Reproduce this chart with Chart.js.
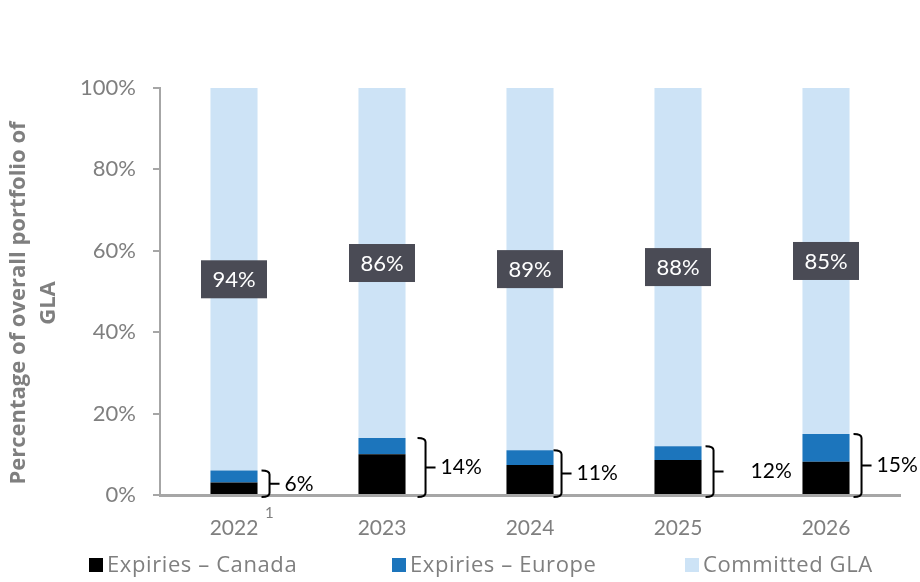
<!DOCTYPE html>
<html>
<head>
<meta charset="utf-8">
<title>Lease expiries</title>
<script src="https://cdn.jsdelivr.net/npm/chart.js@4.4.0/dist/chart.umd.min.js"></script>
<style>
  html, body { margin: 0; padding: 0; background: #fff; }
  #wrap { width: 920px; height: 582px; }
</style>
</head>
<body>
<div id="wrap"><canvas id="expiryChart" width="920" height="582"></canvas></div>
<script>
// shares of total GLA, in percent
const years = ['2022', '2023', '2024', '2025', '2026'];
const expiriesCanada = [3.1, 10.0, 7.4, 8.6, 8.2];
const expiriesEurope = [2.9, 4.0, 3.6, 3.4, 6.8];
const committedGLA = [94, 86, 89, 88, 85];
const yTicks = [0, 20, 40, 60, 80, 100];
const yearNotes = ['1', '', '', '', ''];

const FONT = 'Lato, "Open Sans", sans-serif';
const WIDE_FONT = '"Open Sans", Lato, sans-serif';
const GREY = '#7f7f7f';
const AXIS = '#a6a6a6';

const seriesColors = ['#000000', '#1c75bc', '#cde3f6'];

// boxes with the committed share, expiry brackets, legend and axis title
const annotations = {
    id: 'annotations',
    afterDatasetsDraw(chart) {
        const ctx = chart.ctx;
        const canada = chart.getDatasetMeta(0).data;
        const europe = chart.getDatasetMeta(1).data;
        const committed = chart.getDatasetMeta(2).data;
        ctx.save();

        committed.forEach((bar, i) => {
            const cy = (bar.y + bar.base) / 2;
            ctx.fillStyle = '#4a4b55';
            ctx.fillRect(bar.x - 33, cy - 19, 66, 38);
            ctx.fillStyle = '#ffffff';
            ctx.font = '22px ' + FONT;
            ctx.textAlign = 'center';
            ctx.textBaseline = 'middle';
            ctx.fillText(committedGLA[i] + '%', bar.x, cy + 1);
        });

        const bracketShift = [0, 8, -4, 0, 0];
        const labelShift = [0, 0, 0, 22, 0];
        canada.forEach((bar, i) => {
            const right = bar.x + bar.width / 2 + bracketShift[i];
            const top = europe[i].y;
            const bottom = bar.base + 3;
            const mid = (top + bottom) / 2;
            const x0 = right + 4;
            const xv = right + 12;
            ctx.beginPath();
            ctx.moveTo(x0, top);
            ctx.quadraticCurveTo(xv, top, xv, top + 4);
            ctx.lineTo(xv, bottom - 4);
            ctx.quadraticCurveTo(xv, bottom, x0, bottom);
            ctx.moveTo(xv, mid);
            ctx.lineTo(xv + 10, mid);
            ctx.strokeStyle = '#000';
            ctx.lineWidth = 2;
            ctx.stroke();

            const total = Math.round(expiriesCanada[i] + expiriesEurope[i]);
            ctx.fillStyle = '#000';
            ctx.font = '21px ' + FONT;
            ctx.textAlign = 'left';
            ctx.textBaseline = 'middle';
            ctx.fillText(total + '%', xv + 15 + labelShift[i], mid);
        });
        ctx.restore();
    },
    afterDraw(chart) {
        const ctx = chart.ctx;
        const xScale = chart.scales.x;
        ctx.save();

        // footnote markers beside the year labels
        ctx.fillStyle = GREY;
        ctx.font = '15px ' + FONT;
        ctx.textAlign = 'left';
        ctx.textBaseline = 'top';
        yearNotes.forEach((note, i) => {
            if (note) ctx.fillText(note, xScale.getPixelForValue(i) + 31, 506);
        });

        // legend
        const legendX = [89, 392, 685];
        ctx.font = '22px ' + WIDE_FONT;
        ctx.letterSpacing = '0.6px';
        ctx.textBaseline = 'middle';
        chart.data.datasets.forEach((ds, i) => {
            ctx.fillStyle = ds.backgroundColor;
            ctx.fillRect(legendX[i], 558, 14, 14);
            ctx.fillStyle = GREY;
            ctx.fillText(ds.label, legendX[i] + 18, 566);
        });
        ctx.letterSpacing = '0px';

        // y axis title
        ctx.translate(19, 303);
        ctx.rotate(-Math.PI / 2);
        ctx.font = 'bold 22px ' + WIDE_FONT;
        ctx.textAlign = 'center';
        ctx.fillStyle = GREY;
        ctx.fillText('Percentage of overall portfolio of', 0, 0);
        ctx.fillText('GLA', 0, 30);
        ctx.restore();
    }
};

new Chart(document.getElementById('expiryChart'), {
    type: 'bar',
    data: {
        labels: years,
        datasets: [
            { label: 'Expiries – Canada', data: expiriesCanada, backgroundColor: seriesColors[0] },
            { label: 'Expiries – Europe', data: expiriesEurope, backgroundColor: seriesColors[1] },
            { label: 'Committed GLA', data: committedGLA, backgroundColor: seriesColors[2] }
        ]
    },
    options: {
        responsive: false,
        animation: false,
        events: [],
        layout: { padding: { top: 88, right: 20, left: 0, bottom: 0 } },
        datasets: { bar: { categoryPercentage: 1, barPercentage: 0.318, borderWidth: 0 } },
        plugins: {
            legend: { display: false },
            tooltip: { enabled: false }
        },
        scales: {
            x: {
                stacked: true,
                afterFit: scale => { scale.height = 87; },
                grid: { display: false, drawTicks: false },
                border: { display: true, color: AXIS, width: 3 },
                ticks: { color: GREY, font: { family: FONT, size: 21 }, padding: 21 }
            },
            y: {
                stacked: true,
                min: 0,
                max: 100,
                afterFit: scale => { scale.width = 160; },
                afterBuildTicks: scale => { scale.ticks = yTicks.map(v => ({ value: v })); },
                grid: { drawOnChartArea: false, drawTicks: true, tickLength: 7, color: AXIS, lineWidth: 2 },
                border: { display: true, color: AXIS, width: 2 },
                ticks: {
                    color: GREY,
                    font: { family: FONT, size: 22 },
                    padding: 17,
                    callback: v => v + '%'
                }
            }
        }
    },
    plugins: [annotations]
});
</script>
</body>
</html>
